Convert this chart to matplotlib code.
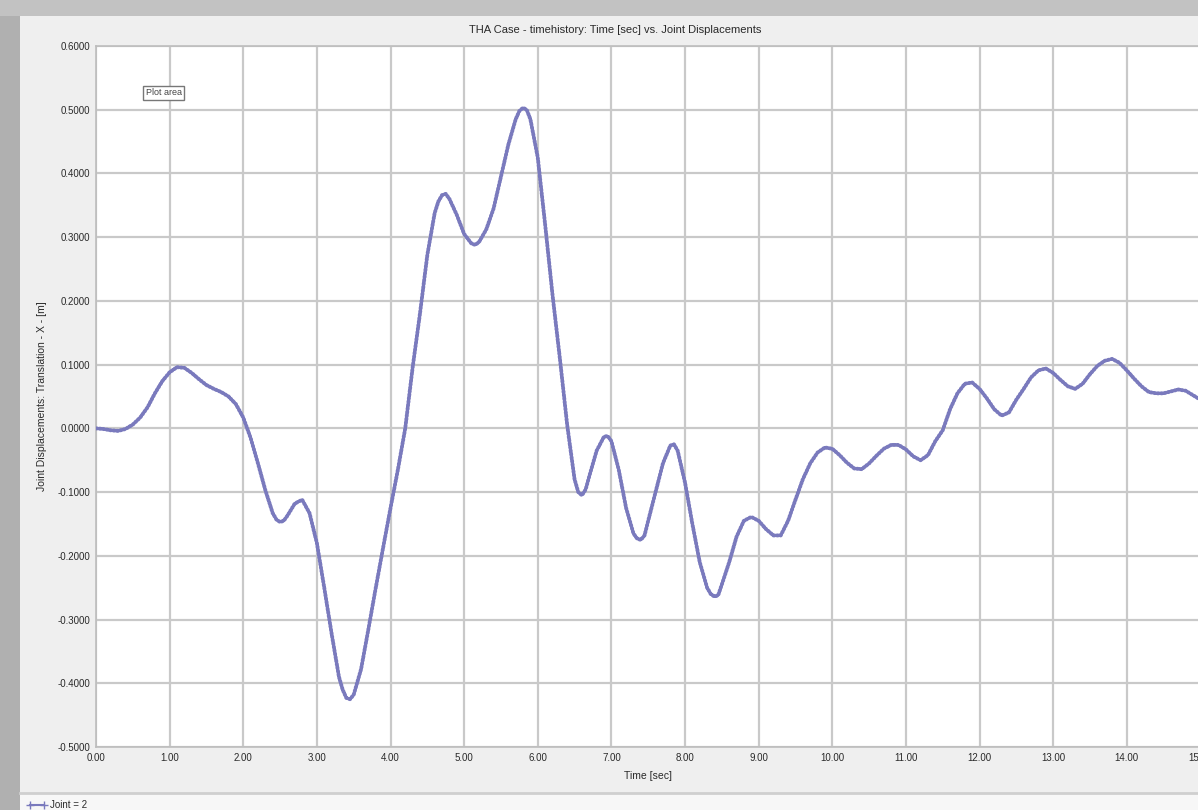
import matplotlib
matplotlib.use("Agg")
import matplotlib.pyplot as plt
from matplotlib.patches import Rectangle

plt.rcParams['font.family'] = ['Liberation Sans', 'DejaVu Sans']

# displacement, every 0.1 s
time_s = [round(i * 0.1, 1) for i in range(151)]
disp = [0.000, -0.001, -0.003, -0.004, -0.001, 0.006, 0.017, 0.033, 0.055, 0.074,
        0.088, 0.096, 0.095, 0.087, 0.077, 0.068, 0.062, 0.057, 0.050, 0.038,
        0.017, -0.015, -0.055, -0.097, -0.133, -0.147, -0.137, -0.118, -0.112, -0.133,
        -0.180, -0.250, -0.322, -0.390, -0.423, -0.418, -0.378, -0.315, -0.250, -0.187,
        -0.125, -0.065, 0.000, 0.095, 0.180, 0.272, 0.338, 0.366, 0.360, 0.335,
        0.305, 0.290, 0.292, 0.312, 0.345, 0.395, 0.445, 0.485, 0.503, 0.485,
        0.425, 0.320, 0.210, 0.110, 0.005, -0.080, -0.105, -0.075, -0.035, -0.013,
        -0.020, -0.065, -0.125, -0.165, -0.175, -0.145, -0.100, -0.055, -0.027, -0.035,
        -0.085, -0.150, -0.210, -0.250, -0.264, -0.245, -0.210, -0.170, -0.145, -0.139,
        -0.145, -0.158, -0.168, -0.168, -0.145, -0.112, -0.080, -0.055, -0.038, -0.030,
        -0.032, -0.042, -0.054, -0.063, -0.064, -0.055, -0.043, -0.032, -0.026, -0.026,
        -0.033, -0.044, -0.050, -0.042, -0.020, -0.003, 0.030, 0.055, 0.070, 0.072,
        0.062, 0.047, 0.030, 0.020, 0.025, 0.045, 0.062, 0.080, 0.091, 0.094,
        0.087, 0.076, 0.066, 0.062, 0.070, 0.085, 0.098, 0.106, 0.109, 0.103,
        0.091, 0.078, 0.066, 0.057, 0.055, 0.055, 0.058, 0.061, 0.059, 0.052,
        0.045]

# extra readings around the sharper turns
extra_t = [2.45, 2.55, 3.35, 3.45, 4.65, 4.75, 5.15, 5.75, 5.85, 6.55, 6.65,
           6.95, 7.35, 7.45, 7.85, 8.35, 8.45]
extra_v = [-0.143, -0.145, -0.410, -0.425, 0.356, 0.368, 0.288, 0.498, 0.500, -0.100, -0.096,
           -0.012, -0.173, -0.168, -0.025, -0.260, -0.262]

pts = sorted(zip(time_s + extra_t, disp + extra_v))
t_all = [p[0] for p in pts]
v_all = [p[1] for p in pts]

xticks = list(range(0, 16))
yticks = [-0.5 + 0.1 * i for i in range(12)]

curve_col = '#7a7abd'
grid_col = '#c9c9c9'

fig = plt.figure(figsize=(11.98, 8.10), dpi=100)
fig.patch.set_facecolor('#efefef')

# window frame around the panel
fig.patches.append(Rectangle((0, 0), 20 / 1198, 1, transform=fig.transFigure,
                             facecolor='#b0b0b0', edgecolor='none', zorder=0))
fig.patches.append(Rectangle((0, 1 - 16 / 810), 1, 16 / 810, transform=fig.transFigure,
                             facecolor='#c2c2c2', edgecolor='none', zorder=0))
fig.patches.append(Rectangle((20 / 1198, 0), 1, 16 / 810, transform=fig.transFigure,
                             facecolor='#f7f7f7', edgecolor='none', zorder=0))
fig.add_artist(plt.Line2D([20 / 1198, 1], [17 / 810, 17 / 810], transform=fig.transFigure,
                          color='#cfcfcf', lw=2))

ax = fig.add_axes([96 / 1198, 1 - 747 / 810, 1 - 96 / 1198 + 0.002, (747 - 46) / 810])
ax.set_facecolor('white')
ax.plot(t_all, v_all, color=curve_col, lw=1.4, alpha=0.8, zorder=3)
ax.plot(t_all, v_all, color=curve_col, lw=2.8, linestyle=(0, (0.3, 0.6)),
        dash_capstyle='round', zorder=3)

ax.set_xlim(0, 15)
ax.set_ylim(-0.5, 0.6)
ax.set_xticks(xticks)
ax.set_xticklabels(['%.2f' % v for v in xticks], fontsize=7, color='#2a2a2a')
ax.set_yticks(yticks)
ax.set_yticklabels(['%.4f' % v for v in yticks], fontsize=7, color='#2a2a2a')
ax.tick_params(length=0, pad=4)
ax.grid(True, color=grid_col, lw=1.6)
ax.set_axisbelow(True)
for s in ax.spines.values():
    s.set_color('#bdbdbd')
    s.set_linewidth(1.2)

ax.set_xlabel('Time [sec]', fontsize=7.5, color='#2a2a2a', labelpad=6)
ax.set_ylabel('Joint Displacements: Translation - X - [m]', fontsize=7.5,
              color='#2a2a2a', labelpad=8)
fig.text(615 / 1198, 1 - 30 / 810,
         'THA Case - timehistory: Time [sec] vs. Joint Displacements',
         ha='center', va='center', fontsize=8, color='#2a2a2a')

ax.text(0.045, 0.933, 'Plot area', transform=ax.transAxes, fontsize=6.5,
        color='#444444', va='center',
        bbox=dict(boxstyle='square,pad=0.3', facecolor='white', edgecolor='#777777', lw=1))

# legend row at the bottom
fig.add_artist(plt.Line2D([30 / 1198, 44 / 1198], [5 / 810, 5 / 810],
                          transform=fig.transFigure, color=curve_col, lw=1.5,
                          marker='+', markersize=6))
fig.text(50 / 1198, 5 / 810, 'Joint = 2', fontsize=7, color='#2a2a2a', va='center')

fig.savefig('out.png', dpi=100, facecolor=fig.get_facecolor())
